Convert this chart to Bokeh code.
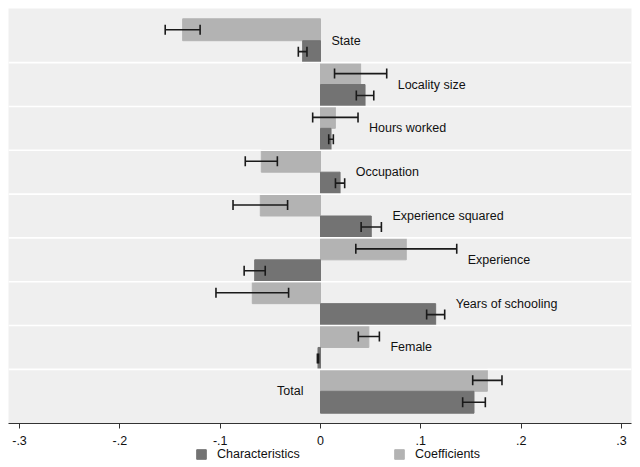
from bokeh.core.properties import value
from bokeh.embed import file_html
from bokeh.layouts import column
from bokeh.models import (ColumnDataSource, FixedTicker, Legend, LegendItem,
                          Range1d, Span, TeeHead, Whisker)
from bokeh.plotting import figure
from bokeh.resources import INLINE

# decomposition terms, top to bottom
categories = ["State", "Locality size", "Hours worked", "Occupation",
              "Experience squared", "Experience", "Years of schooling",
              "Female", "Total"]
coefficients = [-0.1374, 0.0400, 0.0148, -0.0590, -0.0600, 0.0855, -0.0680, 0.0482, 0.1663]
coef_ci = [0.0174, 0.0260, 0.0226, 0.0160, 0.0272, 0.0503, 0.0362, 0.0105, 0.0146]
characteristics = [-0.0178, 0.0444, 0.0105, 0.0195, 0.0506, -0.0656, 0.1148, -0.0025, 0.1530]
char_ci = [0.0043, 0.0087, 0.0023, 0.0046, 0.0101, 0.0105, 0.0090, 0.0006, 0.0113]
tick_values = [-0.3, -0.2, -0.1, 0, 0.1, 0.2, 0.3]
tick_labels = ["-.3", "-.2", "-.1", "0", ".1", ".2", ".3"]

LIGHT = "#b3b3b3"
DARK = "#737373"
FONT = "Liberation Sans"
FSIZE = "12.5px"

n = len(categories)
pos = [n - 1 - i for i in range(n)]

coef_src = ColumnDataSource(dict(
    y=[p_ + 0.25 for p_ in pos], right=coefficients,
    lo=[c - e for c, e in zip(coefficients, coef_ci)],
    hi=[c + e for c, e in zip(coefficients, coef_ci)]))
char_src = ColumnDataSource(dict(
    y=[p_ - 0.25 for p_ in pos], right=characteristics,
    lo=[c - e for c, e in zip(characteristics, char_ci)],
    hi=[c + e for c, e in zip(characteristics, char_ci)]))

p = figure(width=640, height=448, x_range=(-0.311, 0.310), y_range=(-0.735, n - 0.265),
           output_backend="svg", toolbar_location=None,
           min_border_left=8, min_border_top=8, min_border_right=9, min_border_bottom=25)
p.yaxis.visible = False
p.background_fill_color = "#efefef"
p.border_fill_color = "white"
p.outline_line_color = None
p.xgrid.visible = False
p.ygrid.visible = False

r_coef = p.hbar(y="y", right="right", left=0, height=0.5, source=coef_src,
                fill_color=LIGHT, line_color=LIGHT)
r_char = p.hbar(y="y", right="right", left=0, height=0.5, source=char_src,
                fill_color=DARK, line_color=DARK)

for src in (coef_src, char_src):
    p.add_layout(Whisker(source=src, base="y", lower="lo", upper="hi", dimension="width",
                         line_color="#1a1a1a", line_width=1.6, level="overlay",
                         lower_head=TeeHead(size=10, line_color="#1a1a1a", line_width=1.6),
                         upper_head=TeeHead(size=10, line_color="#1a1a1a", line_width=1.6)))

# white separators between groups
for i in range(n - 1):
    p.add_layout(Span(location=i + 0.5, dimension="width", line_color="white",
                      line_width=1.6))

# labels to the right of each group, Total to the left of zero
lab_x = [max(0, a + b, c + d) for a, b, c, d in zip(coefficients, coef_ci, characteristics, char_ci)]
p.text(x=lab_x[:-1], y=pos[:-1], text=categories[:-1], x_offset=11,
       text_baseline="middle", text_align="left", text_font=value(FONT),
       text_font_size=FSIZE, text_color="#111111")
p.text(x=[0], y=[pos[-1]], text=[categories[-1]], x_offset=-17,
       text_baseline="middle", text_align="right", text_font=value(FONT),
       text_font_size=FSIZE, text_color="#111111")

ax = p.xaxis[0]
ax.ticker = FixedTicker(ticks=tick_values)
ax.major_label_overrides = {v: l for v, l in zip(tick_values, tick_labels)}
ax.major_tick_out = 5
ax.major_tick_in = 0
ax.minor_tick_line_color = None
ax.axis_line_color = "#333333"
ax.major_tick_line_color = "#333333"
ax.major_label_standoff = 7
ax.major_label_text_font = FONT
ax.major_label_text_font_size = FSIZE
ax.major_label_text_color = "#111111"

# legend strip underneath (keys copy the real renderers' styles)
leg = figure(width=640, height=19, output_backend="svg", toolbar_location=None,
             x_range=Range1d(0, 1), y_range=Range1d(0, 1),
             x_axis_location=None, y_axis_location=None, min_border=0)
leg.outline_line_color = None
leg.xgrid.visible = False
leg.ygrid.visible = False
k_char = leg.hbar(y=[-5], right=[-5], left=-6, height=0.5,
                  fill_color=r_char.glyph.fill_color, line_color=r_char.glyph.line_color)
k_coef = leg.hbar(y=[-5], right=[-5], left=-6, height=0.5,
                  fill_color=r_coef.glyph.fill_color, line_color=r_coef.glyph.line_color)
legend = Legend(items=[LegendItem(label="Characteristics", renderers=[k_char]),
                       LegendItem(label="Coefficients", renderers=[k_coef])],
                orientation="horizontal", location=(187, 6), padding=0, margin=0,
                spacing=0, glyph_width=12, glyph_height=12, label_standoff=10,
                label_width=176, label_text_font=FONT, label_text_font_size=FSIZE,
                label_text_color="#111111", border_line_color=None,
                background_fill_alpha=0)
leg.add_layout(legend)

open("out.html", "w").write(file_html(column(p, leg, spacing=0), INLINE))
